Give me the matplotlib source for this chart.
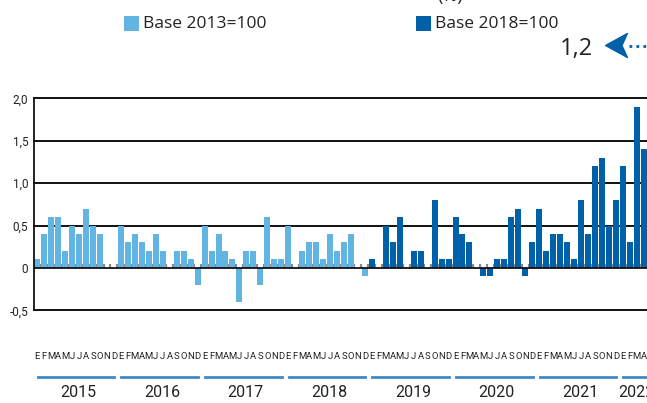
import matplotlib
matplotlib.use("Agg")
from matplotlib import pyplot as plt
from matplotlib.patches import Rectangle
from matplotlib.lines import Line2D

LIGHT = "#62b5e3"
DARK = "#0060a8"
NARROW = dict(family=["Roboto", "DejaVu Sans"])
SANS = ["Open Sans", "DejaVu Sans"]

# monthly values, base 2013=100 (2015-2018)
base2013 = [0.1, 0.4, 0.6, 0.6, 0.2, 0.5, 0.4, 0.7, 0.5, 0.4, 0.0, 0.0,
            0.5, 0.3, 0.4, 0.3, 0.2, 0.4, 0.2, 0.0, 0.2, 0.2, 0.1, -0.2,
            0.5, 0.2, 0.4, 0.2, 0.1, -0.4, 0.2, 0.2, -0.2, 0.6, 0.1, 0.1,
            0.5, 0.0, 0.2, 0.3, 0.3, 0.1, 0.4, 0.2, 0.3, 0.4, 0.0, -0.1]
# monthly values, base 2018=100 (2019-2022)
base2018 = [0.1, 0.0, 0.5, 0.3, 0.6, 0.0, 0.2, 0.2, 0.0, 0.8, 0.1, 0.1,
            0.6, 0.4, 0.3, 0.0, -0.1, -0.1, 0.1, 0.1, 0.6, 0.7, -0.1, 0.3,
            0.7, 0.2, 0.4, 0.4, 0.3, 0.1, 0.8, 0.4, 1.2, 1.3, 0.5, 0.8,
            1.2, 0.3, 1.9, 1.4]
years = [2015, 2016, 2017, 2018, 2019, 2020, 2021, 2022]
month_letters = ["E", "F", "M", "A", "M", "J", "J", "A", "S", "O", "N", "D"]
y_ticks = [-0.5, 0, 0.5, 1.0, 1.5, 2.0]
y_labels = ["-0,5", "0", "0,5", "1,0", "1,5", "2,0"]
last_value = "1,2"

W, H = 647, 403
fig = plt.figure(figsize=(W / 100, H / 100), dpi=100)
ax = fig.add_axes([33.8 / W, (H - 310.3) / H, (W - 33.8) / W, 212 / H])

n1 = len(base2013)
n2 = len(base2018)
n = n1 + n2
x1 = list(range(n1))
x2 = list(range(n1, n))

# little grey marks between bars on the zero line
ax.vlines([i + 0.5 for i in range(-1, n)], 0, 0.05, color="#8a8a8a", lw=1.6, zorder=1)
for yv in [-0.5, 0.5, 1.0, 1.5, 2.0]:
    ax.axhline(yv, color="#111111", lw=1.4, zorder=0, clip_on=False)

ax.bar(x1, base2013, width=0.86, color=LIGHT, zorder=2)
ax.bar(x2, base2018, width=0.86, color=DARK, zorder=2)
ax.axhline(0, color="#111111", lw=1.3, zorder=3)

ax.set_xlim(-0.5, 87.47)
ax.set_ylim(-0.5, 2.0)
for s in ["top", "right", "bottom"]:
    ax.spines[s].set_visible(False)
ax.spines["left"].set_linewidth(1.3)
ax.spines["left"].set_color("#111111")

ax.set_yticks(y_ticks)
ax.set_yticklabels(y_labels, fontsize=8.5, color="#222222", **NARROW)
ax.tick_params(axis="y", length=0, pad=4)

ax.set_xticks(range(n))
ax.set_xticklabels([month_letters[i % 12] for i in range(n)], fontsize=6.8,
                   color="#222222", **NARROW)
ax.tick_params(axis="x", length=0, pad=30)

# year underline and label
tr = ax.get_xaxis_transform()
for k, yr in enumerate(years):
    start = 12 * k
    months = min(12, n - start)
    ax.plot([start + 0.05, start + months - 1 + 0.05 + (0.4 if months < 12 else 0)],
            [-0.3146, -0.3146], transform=tr, color="#4189c7", lw=2, clip_on=False)
    ax.text(start + (months - 1) / 2 + 0.4, -0.39, str(yr), transform=tr,
            ha="center", va="center", fontsize=11.5, color="#222222", **NARROW)

# legend
for x0, col, lab in [(124, LIGHT, "Base 2013=100"), (416, DARK, "Base 2018=100")]:
    fig.add_artist(Rectangle((x0 / W, 1 - 31 / H), 15 / W, 15 / H,
                             transform=fig.transFigure, color=col, lw=0))
    fig.text((x0 + 19) / W, 1 - 23.5 / H, lab, ha="left", va="center",
             family=SANS, fontsize=12.5, color="#222222")

fig.text(450 / W, 1 - 1 / H, "(%)", ha="center", va="baseline",
         family=SANS, fontsize=13, color="#222222")

# last value callout with arrow
fig.text(560 / W, 1 - 55 / H, last_value, ha="left", va="baseline",
         family=SANS, fontsize=17, color="#222222")
head = [(-1, 0), (1, 1.1), (0.5, 0), (1, -1.1), (-1, 0)]
fig.add_artist(Line2D([616 / W], [1 - 45 / H], transform=fig.transFigure,
                      marker=head, markersize=17.3, color=DARK, lw=0))
fig.add_artist(Line2D([629 / W, 1.0], [1 - 46 / H, 1 - 46 / H], transform=fig.transFigure,
                      color=DARK, lw=2, linestyle=(0, (1, 1.5))))

fig.savefig("out.png", dpi=100)
